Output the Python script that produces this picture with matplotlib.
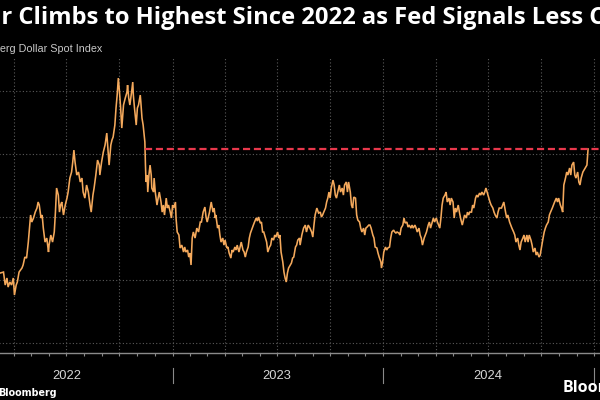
import matplotlib
matplotlib.use("Agg")
import matplotlib.pyplot as plt
import matplotlib.dates as mdates
import matplotlib.transforms as mtransforms
import numpy as np
import pandas as pd

# ---------------- data ----------------
start_date = "2022-03-08"
day_offset = [
    0, 6, 9, 12, 14, 17, 20, 23, 25, 28, 30, 33, 38, 40, 43, 46, 49, 51, 53, 55,
    58, 61, 64, 66, 68, 71, 73, 75, 78, 81, 84, 85, 88, 91, 94, 96, 98, 101, 103, 105,
    107, 110, 113, 116, 118, 121, 124, 126, 128, 130, 133, 136, 139, 142, 144, 147, 150, 153, 156, 158,
    161, 163, 166, 169, 172, 173,
    176, 179, 182, 185, 188, 189, 192, 194, 196, 199, 201, 203, 205, 207, 209, 211, 214, 217, 220, 221,
    223, 225, 228, 230, 231, 233, 236, 238, 240, 243, 244, 246, 248, 251, 252, 253, 255, 256, 258, 260,
    262, 263, 266, 267, 269, 272, 274, 276, 279, 281, 283, 285, 288, 290, 292, 295, 297, 299, 301, 304,
    305, 307, 310, 312, 315, 318, 320, 322, 325, 327, 329, 331, 333, 335, 338, 341, 344, 347,
    349, 352, 355, 357, 359, 363, 366, 369, 371, 373, 374, 377, 379, 381, 383, 386, 388, 390, 393, 395,
    397, 400, 402, 404, 407, 409, 411, 414, 416, 418, 421, 423, 425, 427, 430, 432, 434, 437, 439, 441,
    444, 446, 448, 451, 453, 455, 457, 460, 462, 464, 467, 469, 471, 474, 476, 478, 481, 483, 485, 487,
    490, 492, 494, 496, 498, 500, 503, 505, 507, 509, 512, 514, 516, 519,
    520, 523, 526, 529, 531, 534, 537, 540, 542, 544, 546, 549, 552, 555, 557, 559, 561, 564, 566, 568,
    570, 572, 574, 577, 579, 581, 583, 586, 588, 590, 593, 595, 597, 600, 602, 604, 607, 609, 611, 613,
    616, 618, 620, 623, 625, 627, 630, 632, 634, 636, 639, 641, 643, 646, 648, 650, 653, 655, 657, 660,
    661, 663, 665, 668, 670, 672, 675, 677, 679, 682, 684, 686, 688, 691, 693,
    695, 698, 700, 702, 705, 707, 709, 712, 714, 716, 719, 721, 723, 726, 728, 730, 732, 735, 737, 739,
    742, 744, 746, 749, 751, 753, 756, 758, 760, 762, 764, 766, 768, 771, 773, 775, 778, 780, 782, 785,
    787, 789, 791, 794, 796, 798, 801, 803, 805, 808, 810, 812, 814, 817, 819, 821, 824, 826, 828, 831,
    833, 835, 838, 840, 842, 844, 847, 849, 851, 854, 856, 858, 861, 863, 865, 867,
    869, 871, 873, 876, 878, 880, 883, 885, 887, 890, 892, 894, 897, 899, 901, 903, 906, 908, 910, 913,
    915, 917, 920, 922, 924, 927, 929, 931, 934, 936, 938, 941, 943, 945, 947, 950, 952, 954, 957, 959,
    961, 964, 966, 968, 971, 973, 975, 976, 977, 980, 982, 984, 987, 989, 991, 994, 996, 998, 1001, 1003,
    1005, 1007, 1010, 1012, 1014, 1017, 1019,
]
index_value = [
    1155.5, 1156.3, 1146.0, 1151.6, 1144.4, 1148.4, 1146.0, 1151.6, 1138.1, 1146.0, 1148.4, 1156.3, 1159.5, 1161.9, 1168.2, 1167.4, 1180.1, 1191.2, 1201.6, 1196.0,
    1199.2, 1203.9, 1207.1, 1211.9, 1209.5, 1199.2, 1201.6, 1191.2, 1180.1, 1183.3, 1172.2, 1177.7, 1185.7, 1180.1, 1188.1, 1203.9, 1223.0, 1217.4, 1203.9, 1209.5,
    1211.9, 1201.6, 1209.5, 1215.0, 1219.8, 1230.9, 1235.7, 1243.6, 1253.1, 1243.6, 1233.3, 1235.7, 1227.8, 1230.9, 1219.8, 1215.0, 1225.4, 1219.8, 1209.5, 1203.9,
    1217.4, 1223.0, 1233.3, 1245.2, 1241.2, 1233.3,
    1243.6, 1251.6, 1257.1, 1266.6, 1246.8, 1241.2, 1257.1, 1261.1, 1263.5, 1273.0, 1286.5, 1296.8, 1310.3, 1299.2, 1286.5, 1270.6, 1288.9, 1294.4, 1299.2, 1304.7,
    1294.4, 1288.9, 1299.2, 1307.1, 1296.8, 1286.5, 1273.0, 1286.5, 1288.9, 1296.8, 1291.2, 1278.5, 1273.0, 1259.5, 1241.2, 1227.8, 1233.3, 1219.8, 1233.3, 1241.2,
    1233.3, 1223.0, 1219.8, 1230.9, 1219.8, 1209.5, 1215.0, 1219.8, 1211.9, 1203.9, 1209.5, 1201.6, 1215.0, 1207.1, 1209.5, 1203.9, 1199.2, 1209.5, 1207.1, 1211.9,
    1199.2, 1188.1, 1185.7, 1175.4, 1177.7, 1172.2, 1176.2, 1172.2, 1173.8, 1168.2, 1171.4, 1161.9, 1183.3, 1188.1, 1183.3, 1191.2, 1188.1, 1196.0,
    1196.0, 1203.9, 1207.9, 1200.0, 1196.0, 1203.9, 1211.9, 1203.9, 1207.1, 1199.2, 1201.6, 1191.2, 1193.6, 1185.7, 1180.1, 1183.3, 1177.7, 1181.7, 1175.4, 1176.2,
    1171.4, 1167.4, 1173.8, 1172.2, 1176.2, 1173.8, 1177.7, 1172.2, 1176.2, 1180.1, 1173.8, 1172.2, 1168.2, 1172.2, 1176.2, 1183.3, 1187.3, 1191.2, 1193.6, 1196.0,
    1199.2, 1196.8, 1200.0, 1195.2, 1196.0, 1188.1, 1188.1, 1183.3, 1180.1, 1172.2, 1176.2, 1177.7, 1183.3, 1181.7, 1185.7, 1184.1, 1188.1, 1183.3, 1185.7, 1172.2,
    1164.3, 1156.3, 1151.6, 1148.4, 1155.5, 1159.5, 1161.9, 1163.5, 1167.4, 1168.2, 1176.2, 1177.7, 1181.7, 1183.3,
    1177.7, 1185.7, 1191.2, 1193.6, 1188.1, 1193.6, 1191.2, 1188.1, 1184.1, 1193.6, 1201.6, 1207.1, 1203.1, 1203.9, 1200.0, 1201.6, 1203.9, 1207.1, 1211.9, 1215.0,
    1219.8, 1215.0, 1223.0, 1229.3, 1225.4, 1217.4, 1215.0, 1221.4, 1225.4, 1219.8, 1223.0, 1217.4, 1225.4, 1227.8, 1219.8, 1227.8, 1219.8, 1209.5, 1207.1, 1215.8,
    1215.0, 1201.6, 1197.6, 1196.0, 1191.2, 1188.1, 1191.2, 1185.7, 1191.2, 1192.0, 1193.6, 1193.6, 1191.2, 1185.7, 1183.3, 1176.2, 1175.4, 1171.4, 1168.2, 1164.3,
    1159.5, 1164.3, 1172.2, 1176.2, 1173.8, 1175.4, 1176.2, 1183.3, 1188.1, 1189.6, 1188.1, 1187.3, 1188.1, 1187.3, 1185.7,
    1191.2, 1193.6, 1199.2, 1195.2, 1196.0, 1192.0, 1193.6, 1191.2, 1193.6, 1191.2, 1193.6, 1191.2, 1188.1, 1191.2, 1185.7, 1183.3, 1177.7, 1183.3, 1185.7, 1188.1,
    1193.6, 1196.0, 1191.2, 1196.0, 1199.2, 1196.0, 1199.2, 1196.0, 1193.6, 1191.2, 1199.2, 1209.5, 1215.0, 1217.4, 1219.8, 1211.9, 1215.0, 1209.5, 1215.0, 1211.9,
    1199.2, 1207.1, 1203.9, 1209.5, 1203.9, 1199.2, 1193.6, 1197.6, 1201.6, 1199.2, 1203.9, 1201.6, 1203.9, 1203.9, 1209.5, 1207.1, 1215.0, 1217.4, 1215.8, 1219.0,
    1217.4, 1219.8, 1217.4, 1219.8, 1223.0, 1219.8, 1215.0, 1211.9, 1209.5, 1207.1, 1203.9, 1201.6, 1199.2, 1203.9, 1207.1, 1207.1,
    1207.1, 1209.5, 1211.9, 1203.9, 1199.2, 1201.6, 1196.0, 1193.6, 1191.2, 1188.1, 1185.7, 1180.1, 1183.3, 1177.7, 1173.8, 1180.1, 1183.3, 1185.7, 1180.1, 1185.7,
    1180.1, 1185.7, 1181.7, 1177.7, 1172.2, 1175.4, 1169.8, 1172.2, 1168.2, 1169.8, 1175.4, 1183.3, 1188.1, 1191.2, 1193.6, 1196.0, 1201.6, 1203.9, 1207.1, 1209.5,
    1211.9, 1215.0, 1211.9, 1215.0, 1209.5, 1207.1, 1203.9, 1215.0, 1225.4, 1231.2, 1235.7, 1233.3, 1238.9, 1233.3, 1241.2, 1243.6, 1233.3, 1230.9, 1235.7, 1227.8,
    1225.4, 1230.9, 1235.7, 1237.3, 1238.9, 1241.2, 1254.0,
]
grid_levels = [1100, 1150, 1200, 1250, 1300]
year_labels = ["2022", "2023", "2024"]
title_text = "Dollar Climbs to Highest Since 2022 as Fed Signals Less Cuts"
subtitle_text = "Bloomberg Dollar Spot Index"
source_text = "Bloomberg"

# ---------------- style ----------------
BG = "#000000"
LINE = "#f4a95c"
RED = "#e8384c"
GRID = "#5a5a5a"
AXIS = "#8a8a8a"
W, H = 600, 400

start = pd.Timestamp(start_date)
dates = start + pd.to_timedelta(day_offset, unit="D")
values = np.array(index_value)

fig = plt.figure(figsize=(6, 4), dpi=100, facecolor=BG)
renderer = fig.canvas.get_renderer()

ax_left_px, ax_right_px = -20, 610
ax_top_px, ax_bot_px = 57, 352.7
ax = fig.add_axes([ax_left_px / W, 1 - ax_bot_px / H,
                   (ax_right_px - ax_left_px) / W, (ax_bot_px - ax_top_px) / H])
ax.set_facecolor(BG)

x_lo = start - pd.Timedelta(days=34.7)
x_hi = start + pd.Timedelta(days=1057)
ax.set_xlim(x_lo, x_hi)
ax.set_ylim(1092.3, 1327.0)

ax.plot(dates, values, color=LINE, lw=1.15, zorder=3, solid_joinstyle="miter")

# red dashed reference at the latest level, from where the series first fell below it after the peak
level = values[-1]
peak_i = int(np.argmax(values))
cross_i = peak_i + int(np.argmax(values[peak_i:] < level))
ax.plot([dates[cross_i], x_hi], [level, level], color=RED, lw=1.6,
        linestyle=(0, (3.2, 1.7)), zorder=4, clip_on=False)

# grid & axes
ax.set_yticks(grid_levels)
ax.tick_params(axis="y", left=False, right=False, labelleft=False, labelright=False)
ax.xaxis.set_major_locator(mdates.MonthLocator(bymonth=[1, 4, 7, 10]))
ax.xaxis.set_minor_locator(mdates.MonthLocator())
ax.tick_params(axis="x", which="both", direction="out", length=2.2, width=0.8,
               color=AXIS, labelbottom=False)
ax.grid(True, which="major", axis="both", color=GRID, lw=0.8, linestyle=(0, (1, 2)))
ax.set_axisbelow(True)
for s in ["left", "right", "top"]:
    ax.spines[s].set_visible(False)
ax.spines["bottom"].set_color(AXIS)
ax.spines["bottom"].set_linewidth(1.0)

# year separators and labels
trans = mtransforms.blended_transform_factory(ax.transData, fig.transFigure)
years = [int(y) for y in year_labels]
for y in years + [years[-1] + 1]:
    d = pd.Timestamp(f"{y}-01-01")
    ax.plot([d, d], [1 - 368 / H, 1 - 383 / H], transform=trans, color=AXIS,
            lw=0.8, clip_on=False)
for lab in year_labels:
    d = pd.Timestamp(f"{lab}-07-01")
    ax.text(d, 1 - 376 / H, lab, transform=trans, ha="center", va="center",
            color="#d6d6d6", fontsize=9.3, family="Liberation Sans")


def width_px(s, size, **kw):
    t = fig.text(0, 0, s, fontsize=size, **kw)
    w = t.get_window_extent(renderer).width
    t.remove()
    return w


# title (cropped on both sides in the reference)
tkw = dict(family="Open Sans", weight="bold")
p_end = "Dollar Climbs to Highest Since 2022 as Fed Signals Less"
f0 = 16
span = width_px(p_end, f0, **tkw) - width_px("Dolla", f0, **tkw)
tsize = f0 * 582 / span
tx = 1 - width_px("Dolla", tsize, **tkw)
fig.text(tx / W, 1 - 24 / H, title_text, fontsize=tsize, color="white",
         va="baseline", ha="left", **tkw)

# subtitle
skw = dict(family=["Liberation Sans Narrow", "Liberation Sans"])
span = width_px(subtitle_text, 10, **skw) - width_px("Bloomb", 10, **skw)
ssize = 10 * 101 / span
sx = 0 - width_px("Bloomb", ssize, **skw)
fig.text(sx / W, 1 - 51.5 / H, subtitle_text, fontsize=ssize, color="#c8c8c8",
         va="baseline", ha="left", **skw)

# source text bottom-left
bkw = dict(family="DejaVu Sans", weight="bold")
bsize = 10 * 59 / width_px(source_text, 10, **bkw)
fig.text(-2 / W, 1 - 395.5 / H, source_text, fontsize=bsize, color="white",
         va="baseline", ha="left", **bkw)

# logo bottom-right (cropped)
fig.text(563 / W, 1 - 392 / H, source_text, fontsize=11.5, color="white",
         va="baseline", ha="left", family="Open Sans", weight="bold")

fig.savefig("out.png", dpi=100, facecolor=BG)
